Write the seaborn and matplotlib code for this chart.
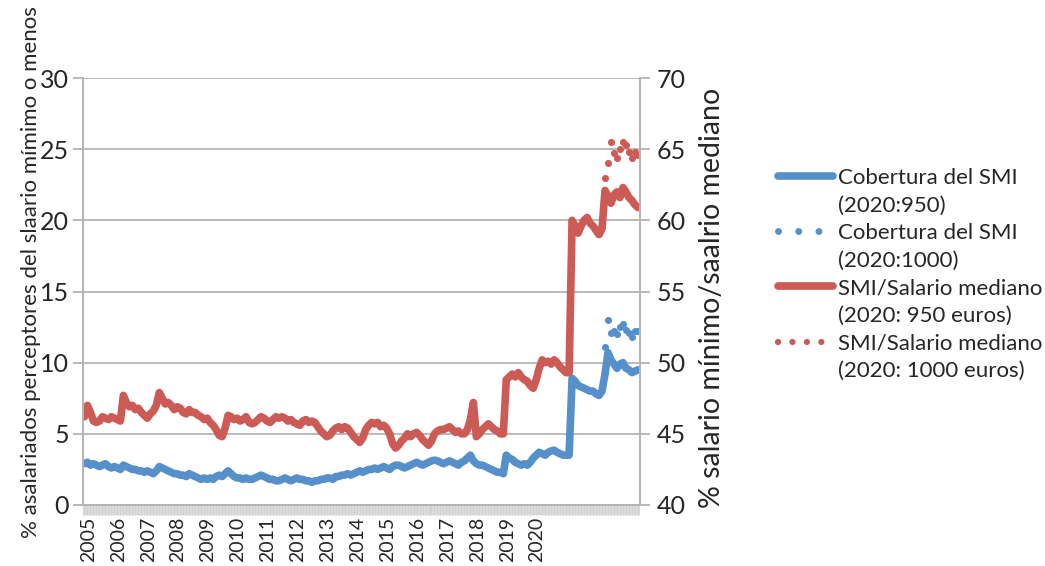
import numpy as np
import pandas as pd
import matplotlib
matplotlib.use("Agg")
import matplotlib.pyplot as plt
import seaborn as sns
from matplotlib.lines import Line2D

# Cobertura del SMI (2020:950), % asalariados, serie mensual
cobertura_950 = [
    2.9, 3.0, 2.8, 2.9, 2.8, 2.7, 2.8, 2.9, 2.7, 2.6,
    2.7, 2.6, 2.5, 2.8, 2.7, 2.6, 2.5, 2.5, 2.4, 2.4,
    2.3, 2.4, 2.3, 2.2, 2.4, 2.7, 2.6, 2.5, 2.4, 2.3,
    2.2, 2.2, 2.1, 2.1, 2.0, 2.2, 2.1, 2.0, 1.9, 1.8,
    1.9, 1.8, 1.9, 1.8, 2.0, 2.1, 2.0, 2.2, 2.4, 2.2,
    2.0, 1.9, 1.9, 1.8, 1.9, 1.8, 1.8, 1.9, 2.0, 2.1,
    2.0, 1.9, 1.8, 1.8, 1.7, 1.7, 1.8, 1.9, 1.8, 1.7,
    1.8, 1.9, 1.8, 1.8, 1.7, 1.7, 1.6, 1.7, 1.7, 1.8,
    1.8, 1.9, 1.9, 1.8, 2.0, 2.0, 2.1, 2.1, 2.2, 2.1,
    2.2, 2.3, 2.4, 2.3, 2.4, 2.5, 2.5, 2.6, 2.5, 2.6,
    2.7, 2.6, 2.5, 2.7, 2.8, 2.8, 2.7, 2.6, 2.7, 2.8,
    2.9, 3.0, 2.9, 2.8, 2.9, 3.0, 3.1, 3.15, 3.1, 3.0,
    2.9, 3.0, 3.1, 3.0, 2.9, 2.8, 3.0, 3.1, 3.3, 3.5,
    3.1, 2.9, 2.8, 2.8, 2.7, 2.6, 2.5, 2.4, 2.3, 2.3,
    2.2, 3.5, 3.3, 3.2, 3.0, 2.9, 2.8, 2.9, 2.8, 3.0,
    3.3, 3.5, 3.7, 3.6, 3.5, 3.7, 3.8, 3.85, 3.7, 3.6,
    3.5, 3.5, 3.5, 8.9, 8.7, 8.4, 8.3, 8.2, 8.1, 8.0,
    8.0, 7.8, 7.7, 8.0, 9.2, 10.7, 10.2, 9.9, 9.6, 9.9,
    10.0, 9.6, 9.5, 9.3, 9.4, 9.5,
]

# Cobertura del SMI (2020:1000), solo los ultimos meses
cobertura_1000 = [11.1, 13.0, 12.1, 12.2, 12.0, 12.5, 12.7, 12.3, 12.1, 11.8, 12.2, 12.2]

# SMI / salario mediano (2020: 950 euros)
smi_mediano_950 = [
    46.2, 47.0, 46.5, 45.9, 45.8, 45.9, 46.2, 46.1, 46.0, 46.2,
    46.1, 46.0, 45.9, 47.7, 47.2, 46.9, 47.0, 46.7, 46.8, 46.5,
    46.3, 46.1, 46.4, 46.6, 47.0, 47.9, 47.5, 47.1, 47.2, 47.0,
    46.7, 46.9, 46.8, 46.5, 46.4, 46.7, 46.5, 46.5, 46.3, 46.2,
    46.0, 46.1, 45.8, 45.6, 45.3, 44.9, 44.8, 45.4, 46.3, 46.2,
    46.0, 46.1, 45.9, 46.0, 46.2, 45.8, 45.7, 45.8, 46.0, 46.2,
    46.1, 45.9, 45.8, 46.0, 46.2, 46.1, 46.2, 46.1, 45.9, 46.0,
    45.8, 45.7, 45.6, 45.9, 46.0, 45.8, 45.9, 45.8, 45.5, 45.2,
    45.0, 44.8, 44.9, 45.2, 45.4, 45.5, 45.3, 45.5, 45.4, 45.1,
    44.8, 44.6, 44.4, 44.7, 45.3, 45.6, 45.8, 45.7, 45.8, 45.5,
    45.6, 45.4, 45.0, 44.3, 44.0, 44.2, 44.5, 44.7, 45.0, 44.8,
    45.0, 45.1, 44.9, 44.6, 44.4, 44.2, 44.5, 45.0, 45.2, 45.3,
    45.3, 45.4, 45.5, 45.3, 45.1, 45.2, 45.0, 45.0, 45.3, 46.0,
    47.2, 44.8, 45.0, 45.3, 45.5, 45.7, 45.5, 45.3, 45.2, 45.0,
    45.0, 48.8, 49.0, 49.2, 49.0, 49.3, 49.0, 48.8, 48.7, 48.4,
    48.2, 48.8, 49.6, 50.2, 50.0, 50.1, 49.9, 50.2, 50.0, 49.7,
    49.5, 49.3, 49.3, 60.0, 59.6, 59.1, 59.6, 60.0, 60.2, 59.8,
    59.6, 59.3, 59.0, 59.4, 62.1, 61.7, 61.2, 61.8, 62.0, 61.6,
    62.3, 62.0, 61.6, 61.4, 61.1, 60.9,
]

# SMI / salario mediano (2020: 1000 euros)
smi_mediano_1000 = [63.0, 64.0, 65.5, 64.7, 64.4, 65.0, 65.5, 65.3, 64.8, 64.4, 64.8, 64.6]

year_labels = ['2005', '2006', '2007', '2008', '2009', '2010', '2011', '2012',
               '2013', '2014', '2015', '2016', '2017', '2018', '2019', '2020']

azul = '#5690CB'
rojo = '#CC5A55'
gris = '#B4B4B4'

mes = np.arange(len(cobertura_950))
df = pd.DataFrame({'mes': mes, 'cob950': cobertura_950, 'smi950': smi_mediano_950})
df_1000 = pd.DataFrame({'mes': mes[-len(cobertura_1000):],
                        'cob1000': cobertura_1000, 'smi1000': smi_mediano_1000})

sns.set_style("white")
plt.rcParams['font.family'] = ['Lato', 'DejaVu Sans']

fig = plt.figure(figsize=(10.45, 5.66), dpi=100)
ax = fig.add_axes([83 / 1045, 1 - 505 / 566, 557 / 1045, 427 / 566])
ax2 = ax.twinx()

# series eje izquierdo
sns.lineplot(data=df, x='mes', y='cob950', ax=ax, color=azul, lw=5.5,
             solid_joinstyle='round', solid_capstyle='round')
sns.scatterplot(data=df_1000, x='mes', y='cob1000', ax=ax, color=azul,
                s=26, linewidth=0)

# series eje derecho
sns.lineplot(data=df, x='mes', y='smi950', ax=ax2, color=rojo, lw=5.5,
             solid_joinstyle='round', solid_capstyle='round')
sns.scatterplot(data=df_1000, x='mes', y='smi1000', ax=ax2, color=rojo,
                s=26, linewidth=0)

ax.set_xlim(-0.5, len(mes) - 0.3)
ax.set_ylim(0, 30)
ax2.set_ylim(40, 70)
ax.set_yticks(range(0, 31, 5))
ax2.set_yticks(range(40, 71, 5))

ax.grid(axis='y', color=gris, lw=1.3)
ax.set_axisbelow(True)
for a in (ax, ax2):
    a.spines['top'].set_visible(False)
    for s in ('left', 'right', 'bottom'):
        a.spines[s].set_color(gris)
        a.spines[s].set_linewidth(1.4)

tick_pos = 1.3 + 10 * np.arange(len(year_labels))
ax.set_xticks(tick_pos)
ax.set_xticklabels(year_labels, rotation=90, va='top')
ax.set_xticks(mes, minor=True)
ax.tick_params(axis='x', which='major', length=7, color='#B8B8B8', width=1.2, labelsize=14, pad=1.5)
ax.tick_params(axis='x', which='minor', length=7, color='#D0D0D0', width=1.8, bottom=True)
ax.tick_params(axis='y', length=7, color=gris, width=1.3, labelsize=18, pad=3)
ax2.tick_params(axis='y', length=7, color=gris, width=1.3, labelsize=18, pad=5)

ax.set_xlabel('')
ax.set_ylabel('% asalariados perceptores del slaario mímimo o menos', fontsize=16)
ax.yaxis.set_label_coords(-0.075, 0.546)
ax2.set_ylabel('% salario mínimo/saalrio mediano', fontsize=20.5)
ax2.yaxis.set_label_coords(1.106, 0.485)

# leyenda, una entrada por linea de texto
vacio = Line2D([], [], color='none')
handles = [
    Line2D([], [], color=azul, lw=5.5, solid_capstyle='round'), vacio,
    Line2D([], [], color=azul, lw=5, linestyle=(0, (0.01, 2.9)), dash_capstyle='round'), vacio,
    Line2D([], [], color=rojo, lw=5.5, solid_capstyle='round'), vacio,
    Line2D([], [], color=rojo, lw=4.5, linestyle=(0, (0.01, 2.3)), dash_capstyle='round'), vacio,
]
labels = ['Cobertura del SMI', '(2020:950)', 'Cobertura del SMI', '(2020:1000)',
          'SMI/Salario mediano', '(2020: 950 euros)', 'SMI/Salario mediano', '(2020: 1000 euros)']
fig.legend(handles, labels, loc='upper left', bbox_to_anchor=(778 / 1045, 1 - 168 / 566),
           frameon=False, fontsize=16, handlelength=2.48, handletextpad=0.2,
           labelspacing=0.34, borderpad=0, borderaxespad=0)

fig.savefig('out.png', dpi=100)
